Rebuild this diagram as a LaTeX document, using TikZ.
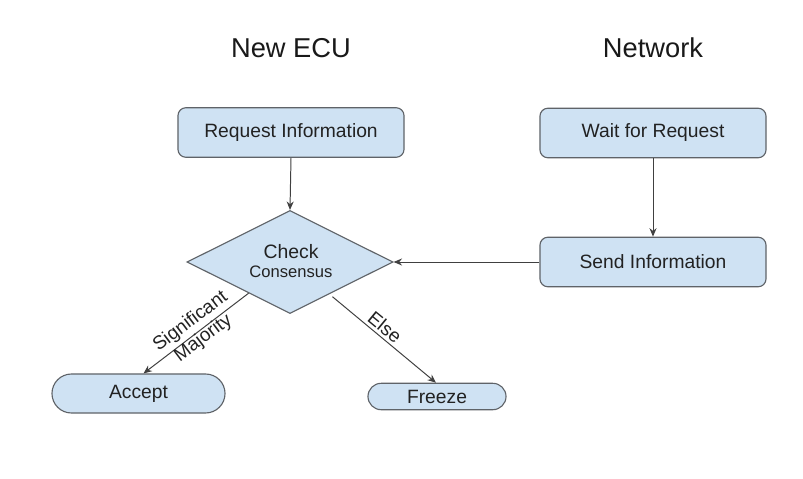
\documentclass[tikz,border=0pt]{standalone}
\usepackage{fontspec}
\setmainfont{Liberation Sans}
\usetikzlibrary{shapes.geometric,arrows.meta,calc}
\definecolor{boxfill}{HTML}{CFE2F3}
\definecolor{boxdraw}{HTML}{5F6368}
\definecolor{txt}{HTML}{222222}
\begin{document}
\begin{tikzpicture}[x=0.025cm,y=-0.025cm,
  every node/.style={text=txt},
  title/.style={font=\fontsize{19.4}{22}\selectfont, text=black!90},
  procbox/.style={draw=boxdraw, fill=boxfill, line width=0.8pt, rounded corners=0.2cm,
    minimum width=5.65cm, minimum height=1.24cm, inner sep=0pt, font=\fontsize{13.7}{16}\selectfont},
  pill/.style={draw=boxdraw, fill=boxfill, line width=0.8pt, inner sep=0pt, font=\fontsize{13.7}{16}\selectfont},
  decision/.style={draw=boxdraw, fill=boxfill, line width=0.8pt, diamond, inner sep=0pt,
    minimum width=5.15cm, minimum height=2.575cm},
  conn/.style={draw=black!75, line width=0.7pt, -{Stealth[length=6pt,width=5pt]}},
  lbl/.style={font=\fontsize{13.5}{15}\selectfont, align=center, inner sep=0pt}
]
\fill[white] (0,0) rectangle (803,479);
\useasboundingbox (0,0) rectangle (803,479);

\node[title] (t1) at (291,48) {New ECU};
\node[title] (t2) at (653,48) {Network};

\node[procbox] (req) at (291,132.5) {Request Information};
\node[procbox] (wait) at (653,133) {Wait for Request};
\node[procbox] (send) at (653,262) {Send Information};

\node[decision] (chk) at (290,262) {};
\node[font=\fontsize{13.8}{16}\selectfont] (chk1) at (291,252) {Check};
\node[font=\fontsize{11.8}{14}\selectfont] (chk2) at (291,272) {Consensus};

\node[pill, rounded corners=0.4875cm, minimum width=4.325cm, minimum height=0.975cm] (acc) at (138.5,393.5) {Accept};
\node[pill, rounded corners=0.33cm, minimum width=3.45cm, minimum height=0.66cm] (frz) at (437,396.5) {Freeze};

\draw[conn] (req.south) -- (chk.north);
\draw[conn] (wait.south) -- (send.north);
\draw[conn] (send.west) -- (chk.east);

\coordinate (sa) at ($(chk.west)!0.6!(chk.south)$);
\coordinate (ea) at ($(acc.north)+(5,0)$);
\draw[conn] (sa) -- (ea);
\coordinate (sf) at ($(chk.south)!0.41!(chk.east)+(0,4)$);
\coordinate (ef) at ($(frz.north)+(-1,0)$);
\draw[conn] (sf) -- (ef);

\node[lbl, rotate=37] (l1) at (197,330) {Significant\\Majority};
\node[lbl, rotate=-39.5] (l2) at (385,327) {Else};
\end{tikzpicture}
\end{document}
